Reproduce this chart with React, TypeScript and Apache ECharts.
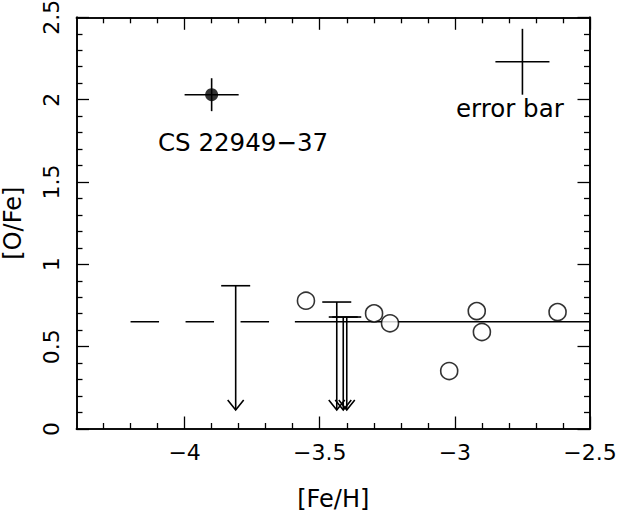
import React, { useEffect, useRef } from "react";
import * as echarts from "echarts";

// Observed stars: [Fe/H] and [O/Fe]
const obsFeH = [-3.551, -3.299, -3.24, -3.021, -2.919, -2.9, -2.62];
const obsOFe = [0.779, 0.702, 0.642, 0.352, 0.716, 0.589, 0.71];

// Upper limits
const limFeH = [-3.811, -3.437, -3.413, -3.4];
const limOFe = [0.87, 0.771, 0.68, 0.68];
const limArrowTip = 0.115;

// CS 22949-37
const csFeH = [-3.9];
const csOFe = [2.03];
const csErr = [0.1, 0.1];

// error bar sample
const sampleFeH = [-2.75];
const sampleOFe = [2.23];
const sampleErr = [0.1, 0.2];

// mean line
const meanOFe = 0.651;
const meanDashedX = [-4.2, -3.592];
const meanSolidX = [-3.592, -2.5];

// axes
const xMin = -4.4;
const xMax = -2.5;
const yMin = 0;
const yMax = 2.5;
const xMajor = [-4, -3.5, -3, -2.5];
const xMinor = [-4.3, -4.2, -4.1, -3.9, -3.8, -3.7, -3.6, -3.4, -3.3, -3.2, -3.1, -2.9, -2.8, -2.7, -2.6];
const yMajor = [0, 0.5, 1, 1.5, 2, 2.5];
const yMinor = [0.1, 0.2, 0.3, 0.4, 0.6, 0.7, 0.8, 0.9, 1.1, 1.2, 1.3, 1.4, 1.6, 1.7, 1.8, 1.9, 2.1, 2.2, 2.3, 2.4];

const FONT = "DejaVu Sans";
const INK = "#000";
const LW = 1.6;

const fmt = (v: number) => String(v).replace("-", "\u2212");

function axisX(position: string, ticks: number[], len: number, labels: boolean, withName: boolean) {
  return {
    type: "value",
    min: xMin,
    max: xMax,
    position,
    axisLine: { show: true, onZero: false, lineStyle: { color: INK, width: LW } },
    axisTick: { show: true, inside: true, length: len, customValues: ticks, lineStyle: { color: INK, width: 1.3 } },
    axisLabel: labels
      ? { show: true, customValues: xMajor, formatter: fmt, fontSize: 22, fontFamily: FONT, color: INK, margin: 12 }
      : { show: false },
    splitLine: { show: false },
    name: withName ? "[Fe/H]" : "",
    nameLocation: "middle",
    nameGap: 58,
    nameTextStyle: { fontSize: 24, fontFamily: FONT, color: INK },
  };
}

function axisY(position: string, ticks: number[], len: number, labels: boolean, withName: boolean) {
  return {
    type: "value",
    min: yMin,
    max: yMax,
    position,
    axisLine: { show: true, onZero: false, lineStyle: { color: INK, width: LW } },
    axisTick: { show: true, inside: true, length: len, customValues: ticks, lineStyle: { color: INK, width: 1.3 } },
    axisLabel: labels
      ? { show: true, customValues: yMajor, rotate: 90, formatter: fmt, fontSize: 22, fontFamily: FONT, color: INK, margin: 14 }
      : { show: false },
    splitLine: { show: false },
    name: withName ? "[O/Fe]" : "",
    nameLocation: "middle",
    nameRotate: 90,
    nameGap: 52,
    nameTextStyle: { fontSize: 24, fontFamily: FONT, color: INK },
  };
}

export default function App() {
  const ref = useRef<HTMLDivElement>(null);
  useEffect(() => {
    if (!ref.current) return;
    const chart = echarts.init(ref.current, null, { renderer: "svg" });

    const limData = limFeH.map((x, i) => [x, limOFe[i]]);
    const csData = csFeH.map((x, i) => [x, csOFe[i], csErr[0], csErr[1]]);
    const sampleData = sampleFeH.map((x, i) => [x, sampleOFe[i], sampleErr[0], sampleErr[1]]);

    const errRender = (params: any, api: any) => {
      const x = api.value(0);
      const y = api.value(1);
      const ex = api.value(2);
      const ey = api.value(3);
      const l = api.coord([x - ex, y]);
      const r = api.coord([x + ex, y]);
      const t = api.coord([x, y + ey]);
      const b = api.coord([x, y - ey]);
      const st = { stroke: INK, lineWidth: LW };
      return {
        type: "group",
        children: [
          { type: "line", shape: { x1: l[0], y1: l[1], x2: r[0], y2: r[1] }, style: st },
          { type: "line", shape: { x1: t[0], y1: t[1], x2: b[0], y2: b[1] }, style: st },
        ],
      };
    };

    const limRender = (params: any, api: any) => {
      const x = api.value(0);
      const y = api.value(1);
      const top = api.coord([x, y]);
      const tip = api.coord([x, limArrowTip]);
      const st = { stroke: INK, lineWidth: LW, fill: "none" };
      return {
        type: "group",
        children: [
          { type: "line", shape: { x1: top[0], y1: top[1], x2: tip[0], y2: tip[1] }, style: st },
          { type: "line", shape: { x1: top[0] - 14.5, y1: top[1], x2: top[0] + 14.5, y2: top[1] }, style: st },
          {
            type: "polyline",
            shape: { points: [[tip[0] - 8, tip[1] - 10], [tip[0], tip[1]], [tip[0] + 8, tip[1] - 10]] },
            style: st,
          },
        ],
      };
    };

    chart.setOption({
      animation: false,
      backgroundColor: "#fff",
      grid: { left: 76.5, right: 29, top: 17.3, bottom: 88, containLabel: false, outerBoundsMode: "none" },
      xAxis: [
        axisX("bottom", xMajor, 12.5, true, true),
        axisX("bottom", xMinor, 6, false, false),
        axisX("top", xMajor, 12.5, false, false),
        axisX("top", xMinor, 6, false, false),
      ],
      yAxis: [
        axisY("left", yMajor, 12.5, true, true),
        axisY("left", yMinor, 6, false, false),
        axisY("right", yMajor, 12.5, false, false),
        axisY("right", yMinor, 6, false, false),
      ],
      graphic: [
        {
          type: "text",
          x: 158,
          y: 142,
          style: { text: "CS 22949\u221237", fill: INK, font: `24.5px "${FONT}"`, align: "left", verticalAlign: "middle" },
        },
        {
          type: "text",
          x: 456,
          y: 108,
          style: { text: "error bar", fill: INK, font: `24.5px "${FONT}"`, align: "left", verticalAlign: "middle" },
        },
      ],
      series: [
        {
          type: "line",
          data: meanDashedX.map((x) => [x, meanOFe]),
          symbol: "none",
          lineStyle: { color: INK, width: LW, type: [28.5, 26.5] },
          z: 1,
        },
        {
          type: "line",
          data: meanSolidX.map((x) => [x, meanOFe]),
          symbol: "none",
          lineStyle: { color: INK, width: LW, type: "solid" },
          z: 1,
        },
        {
          type: "custom",
          renderItem: limRender,
          data: limData,
          encode: { x: 0, y: 1 },
          z: 2,
        },
        {
          type: "scatter",
          data: obsFeH.map((x, i) => [x, obsOFe[i]]),
          symbol: "circle",
          symbolSize: 17,
          itemStyle: { color: "#fff", borderColor: INK, borderWidth: LW },
          z: 3,
        },
        {
          type: "custom",
          renderItem: errRender,
          data: csData,
          encode: { x: 0, y: 1 },
          z: 2,
        },
        {
          type: "scatter",
          data: csFeH.map((x, i) => [x, csOFe[i]]),
          symbol: "circle",
          symbolSize: 13,
          itemStyle: { color: INK },
          z: 3,
        },
        {
          type: "custom",
          renderItem: errRender,
          data: sampleData,
          encode: { x: 0, y: 1 },
          z: 2,
        },
      ],
    });
    return () => chart.dispose();
  }, []);
  return <div ref={ref} style={{ position: "absolute", left: 0, top: 0, width: 619, height: 517 }} />;
}
